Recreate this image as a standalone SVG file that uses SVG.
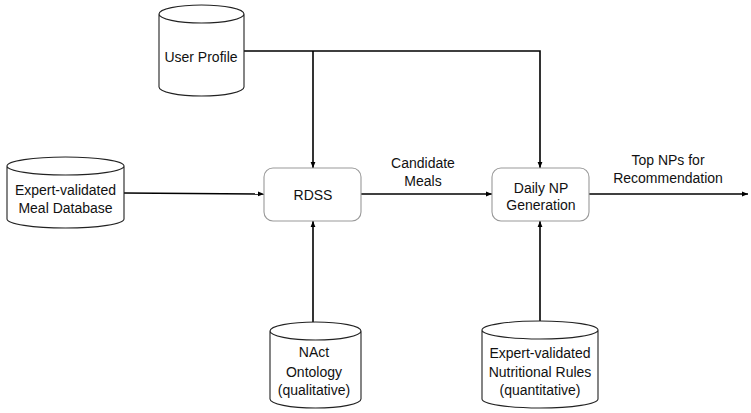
<svg xmlns="http://www.w3.org/2000/svg" width="751" height="413" viewBox="0 0 751 413">
<defs>
<style>
.cyl{fill:#fff;stroke:#222;stroke-width:1.1}
.box{fill:#fff;stroke:#999;stroke-width:1.1}
.ln{fill:none;stroke:#000;stroke-width:1.6}
text{font-family:"Liberation Sans",Arial,sans-serif;font-size:14px;fill:#111;text-anchor:middle}
</style>
<marker id="ah" viewBox="0 0 10 10" refX="10" refY="5" markerWidth="6" markerHeight="6" markerUnits="userSpaceOnUse" orient="auto">
<path d="M0,1 L10,5 L0,9 Z" fill="#000"/>
</marker>
</defs>
<rect width="751" height="413" fill="#fff"/>
<g id="connectors">
<path class="ln" d="M244,51 H540 V168" marker-end="url(#ah)"/>
<path class="ln" d="M313,51 V168" marker-end="url(#ah)"/>
<path class="ln" d="M124,193 L264,194" marker-end="url(#ah)"/>
<path class="ln" d="M361,194 H492" marker-end="url(#ah)"/>
<path class="ln" d="M589,194 H748" marker-end="url(#ah)"/>
<path class="ln" d="M313,322 V221" marker-end="url(#ah)"/>
<path class="ln" d="M540,321 V221" marker-end="url(#ah)"/>
</g>
<g id="user-profile">
<path class="cyl" d="M159,14 V87 A42.5,9 0 0 0 244,87 V14 A42.5,9 0 0 0 159,14 A42.5,9 0 0 0 244,14"/>
<text x="201" y="62">User Profile</text>
</g>
<g id="meal-db">
<path class="cyl" d="M7,166 V219 A58.5,9 0 0 0 124,219 V166 A58.5,9 0 0 0 7,166 A58.5,9 0 0 0 124,166"/>
<text x="65.5" y="195">Expert-validated</text>
<text x="65.5" y="213">Meal Database</text>
</g>
<g id="rdss">
<rect class="box" x="264" y="168" width="97" height="53" rx="9"/>
<text x="313" y="200">RDSS</text>
</g>
<g id="daily-np">
<rect class="box" x="492" y="168" width="97" height="53" rx="9"/>
<text x="541" y="193">Daily NP</text>
<text x="541" y="210">Generation</text>
</g>
<g id="nact">
<path class="cyl" d="M270,331 V399 A45.5,9 0 0 0 361,399 V331 A45.5,9 0 0 0 270,331 A45.5,9 0 0 0 361,331"/>
<text x="314" y="357">NAct</text>
<text x="314" y="377">Ontology</text>
<text x="314" y="395">(qualitative)</text>
</g>
<g id="nutri-rules">
<path class="cyl" d="M482,330 V399 A58,9 0 0 0 598,399 V330 A58,9 0 0 0 482,330 A58,9 0 0 0 598,330"/>
<text x="540" y="358">Expert-validated</text>
<text x="540" y="377">Nutritional Rules</text>
<text x="540" y="395">(quantitative)</text>
</g>
<g id="labels">
<text x="423" y="168">Candidate</text>
<text x="423" y="186">Meals</text>
<text x="668" y="165">Top NPs for</text>
<text x="668" y="183">Recommendation</text>
</g>
</svg>
